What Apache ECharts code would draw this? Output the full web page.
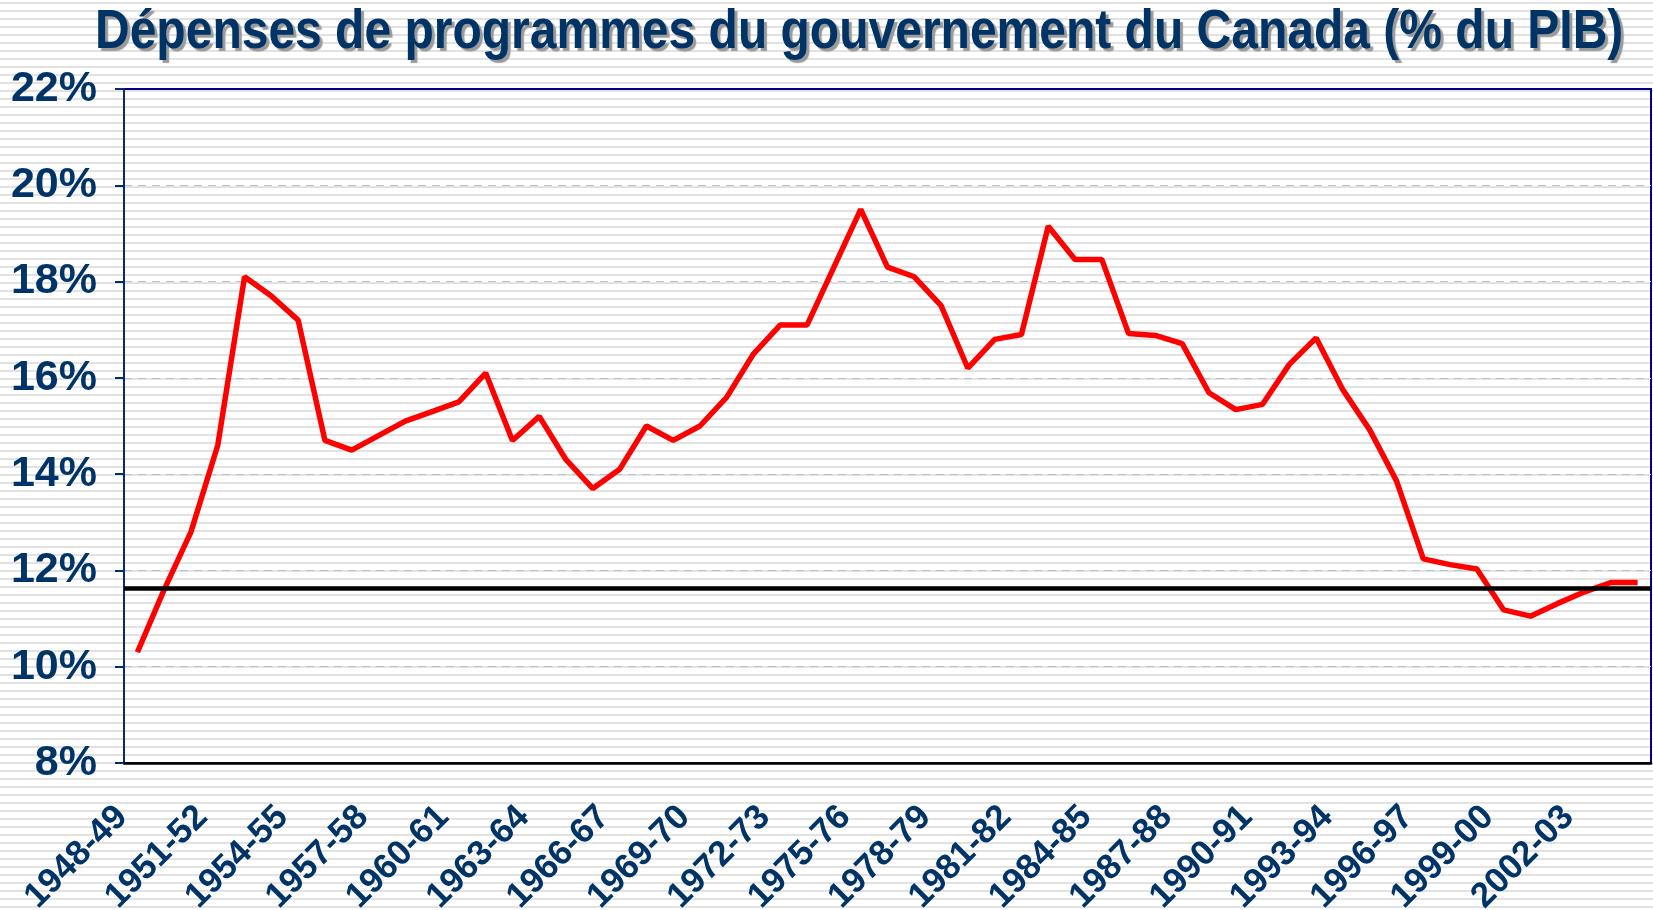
<!DOCTYPE html>
<html lang="fr">

<head>
    <meta charset="UTF-8">
    <title>Dépenses de programmes du gouvernement du Canada</title>
    <script src="https://cdn.jsdelivr.net/npm/echarts@6/dist/echarts.min.js"></script>
    <style>
        html,
        body {
            margin: 0;
            padding: 0;
        }

        body {
            background: repeating-linear-gradient(to bottom, #fff 0px, #fff 2px, #e2e2e2 2px, #e2e2e2 4px, #fff 4px, #fff 8px);
        }

        #chart {
            width: 1653px;
            height: 910px;
        }
    </style>
</head>

<body>
    <div id="chart"></div>
    <script>
        // exercices financiers
        var years = [
            '1948-49', '1949-50', '1950-51', '1951-52', '1952-53', '1953-54', '1954-55', '1955-56',
            '1956-57', '1957-58', '1958-59', '1959-60', '1960-61', '1961-62', '1962-63', '1963-64',
            '1964-65', '1965-66', '1966-67', '1967-68', '1968-69', '1969-70', '1970-71', '1971-72',
            '1972-73', '1973-74', '1974-75', '1975-76', '1976-77', '1977-78', '1978-79', '1979-80',
            '1980-81', '1981-82', '1982-83', '1983-84', '1984-85', '1985-86', '1986-87', '1987-88',
            '1988-89', '1989-90', '1990-91', '1991-92', '1992-93', '1993-94', '1994-95', '1995-96',
            '1996-97', '1997-98', '1998-99', '1999-00', '2000-01', '2001-02', '2002-03', '2003-04',
            '2004-05'
        ];

        // dépenses de programmes, % du PIB
        var depenses = [
            10.3, 11.6, 12.8, 14.6, 18.1, 17.7, 17.2, 14.7,
            14.5, 14.8, 15.1, 15.3, 15.5, 16.1, 14.7, 15.2,
            14.3, 13.7, 14.1, 15.0, 14.7, 15.0, 15.6, 16.5,
            17.1, 17.1, 18.3, 19.5, 18.3, 18.1, 17.5, 16.2,
            16.8, 16.9, 19.15, 18.46, 18.46, 16.92, 16.88, 16.71,
            15.69, 15.34, 15.45, 16.28, 16.83, 15.75, 14.92, 13.86,
            12.24, 12.12, 12.03, 11.18, 11.05, 11.31, 11.55, 11.75,
            11.75
        ];

        // niveau de référence (ligne noire)
        var niveauRef = 11.64;

        var yMin = 8, yMax = 22, yStep = 2;

        var titre = 'Dépenses de programmes du gouvernement du Canada (% du PIB)';
        var navy = '#003366';
        var font = 'Arial, "Liberation Sans", sans-serif';

        var chart = echarts.init(document.getElementById('chart'));
        chart.setOption({
            backgroundColor: 'transparent',
            animation: false,
            // titre un peu étiré en hauteur, comme dans l'original
            graphic: [{
                type: 'text',
                x: 95,
                y: 6,
                scaleY: 1.14,
                z: 10,
                style: {
                    text: titre,
                    font: 'bold 48px ' + font,
                    fill: navy,
                    textVerticalAlign: 'top',
                    textShadowColor: '#9a9a9a',
                    textShadowOffsetX: 3,
                    textShadowOffsetY: 3,
                    textShadowBlur: 1
                }
            }],
            grid: {
                left: 124,
                right: 2,
                top: 89,
                bottom: 147,
                containLabel: false,
                outerBoundsMode: 'none',
                show: true,
                borderColor: '#000080',
                borderWidth: 2,
                backgroundColor: 'transparent'
            },
            xAxis: {
                type: 'category',
                data: years,
                boundaryGap: true,
                axisLine: {
                    lineStyle: { color: '#000', width: 2.5 }
                },
                axisTick: {
                    interval: 0,
                    length: 10,
                    lineStyle: { color: '#000', width: 2 }
                },
                axisLabel: {
                    interval: 2,
                    rotate: 45,
                    margin: 33,
                    padding: [0, 22, 0, 0],
                    fontFamily: font,
                    fontSize: 35,
                    fontWeight: 'bold',
                    color: navy
                },
                splitLine: { show: false }
            },
            yAxis: {
                type: 'value',
                min: yMin,
                max: yMax,
                interval: yStep,
                axisLine: {
                    show: true,
                    lineStyle: { color: '#0a2a6a', width: 2 }
                },
                axisTick: {
                    show: true,
                    length: 9,
                    lineStyle: { color: '#0a2a6a', width: 2 }
                },
                axisLabel: {
                    formatter: '{value}%',
                    margin: 27,
                    fontFamily: font,
                    fontSize: 43,
                    fontWeight: 'bold',
                    color: navy
                },
                splitLine: {
                    show: true,
                    showMinLine: false,
                    showMaxLine: false,
                    lineStyle: { color: '#b4c2d2', width: 1, type: [8, 6] }
                }
            },
            series: [{
                type: 'line',
                data: depenses,
                symbol: 'none',
                lineStyle: { color: '#ff0000', width: 5.5 },
                z: 3,
                markLine: {
                    silent: true,
                    symbol: 'none',
                    label: { show: false },
                    lineStyle: { color: '#000', width: 4.5, type: 'solid' },
                    data: [{ yAxis: niveauRef }]
                }
            }]
        });
    </script>
</body>

</html>
